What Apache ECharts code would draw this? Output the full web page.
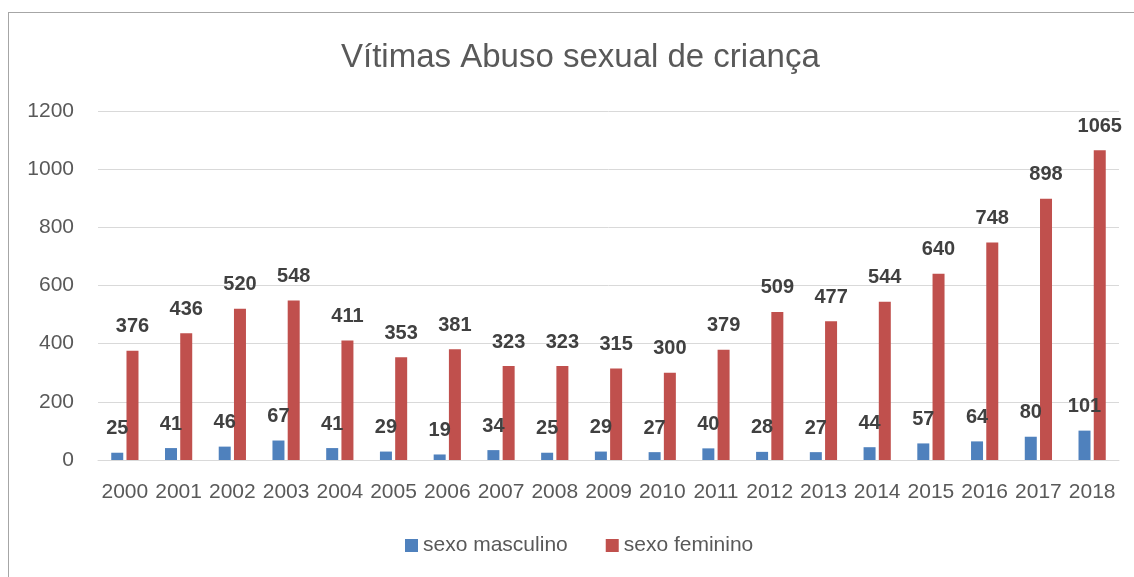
<!DOCTYPE html>
<html>
<head>
    <meta charset="utf-8" />
    <title>Vítimas Abuso sexual de criança</title>
    <script type="text/javascript" src="https://cdn.jsdelivr.net/npm/echarts@6/dist/echarts.min.js"></script>
    <style>
        html, body { margin: 0; padding: 0; background: #fff; }
        #frame { position: absolute; left: 8px; top: 12px; width: 1126px; height: 565px;
                 border-left: 1px solid #a6a6a6; border-top: 1px solid #a6a6a6; }
        #main { position: absolute; left: 0; top: 0; width: 1134px; height: 577px; }
    </style>
</head>
<body>
<div id="frame"></div>
<div id="main"></div>
<script type="text/javascript">
    // dados
    var anos = ['2000', '2001', '2002', '2003', '2004', '2005', '2006', '2007', '2008', '2009',
                '2010', '2011', '2012', '2013', '2014', '2015', '2016', '2017', '2018'];
    var masculino = [25, 41, 46, 67, 41, 29, 19, 34, 25, 29, 27, 40, 28, 27, 44, 57, 64, 80, 101];
    var feminino = [376, 436, 520, 548, 411, 353, 381, 323, 323, 315, 300, 379, 509, 477, 544, 640, 748, 898, 1065];

    var fonte = '"Liberation Sans", "DejaVu Sans", sans-serif';
    var rotulo = {
        show: true,
        position: 'top',
        distance: 14,
        color: '#404040',
        fontWeight: 'bold',
        fontSize: 20,
        fontFamily: fonte
    };

    var myChart = echarts.init(document.getElementById('main'));
    var option = {
        animation: false,
        title: {
            text: 'Vítimas Abuso sexual de criança',
            left: 336,
            top: 36,
            textStyle: { color: '#595959', fontSize: 33, fontWeight: 'normal', fontFamily: fonte }
        },
        legend: {
            bottom: 16,
            left: 400,
            itemWidth: 13,
            itemHeight: 13,
            itemGap: 38,
            icon: 'rect',
            textStyle: { color: '#595959', fontSize: 21, fontFamily: fonte },
            data: ['sexo masculino', 'sexo feminino']
        },
        grid: { left: 98, right: 15, top: 111, bottom: 117 },
        xAxis: {
            type: 'category',
            data: anos,
            axisTick: { show: false },
            axisLine: { lineStyle: { color: '#d9d9d9' } },
            axisLabel: { interval: 0, color: '#595959', fontSize: 21, margin: 22, fontFamily: fonte }
        },
        yAxis: {
            type: 'value',
            min: 0,
            max: 1200,
            interval: 200,
            axisLabel: {
                color: '#595959', fontSize: 21, margin: 24, fontFamily: fonte,
                formatter: function (v) { return String(v); }
            },
            splitLine: { lineStyle: { color: '#d9d9d9', width: 1 } }
        },
        series: [
            {
                name: 'sexo masculino',
                type: 'bar',
                barWidth: 12,
                barGap: '27%',
                itemStyle: { color: '#4F81BD' },
                label: rotulo,
                data: masculino
            },
            {
                name: 'sexo feminino',
                type: 'bar',
                barWidth: 12,
                itemStyle: { color: '#C0504D' },
                label: rotulo,
                data: feminino
            }
        ]
    };
    myChart.setOption(option);
</script>
</body>
</html>
